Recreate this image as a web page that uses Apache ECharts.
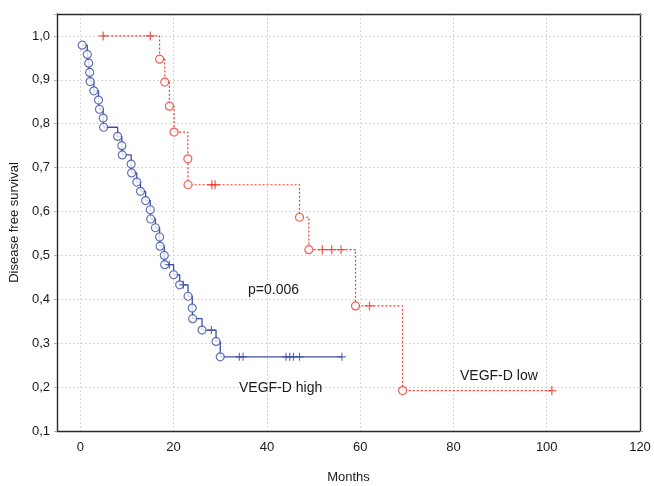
<!DOCTYPE html>
<html>
<head>
<meta charset="utf-8">
<script src="https://cdn.jsdelivr.net/npm/echarts@6/dist/echarts.min.js"></script>
<style>html,body{margin:0;padding:0;background:#fff}#c{width:654px;height:486px}</style>
</head>
<body>
<div id="c"></div>
<script>
// ---- data ----
const xTicks = [0, 20, 40, 60, 80, 100, 120];
const yTicks = [0.1, 0.2, 0.3, 0.4, 0.5, 0.6, 0.7, 0.8, 0.9, 1.0];

// VEGF-D high (blue): event times and survival after each event
const highEventTimes = [0.4, 1.5, 1.8, 2.0, 2.1, 2.9, 3.9, 4.1, 4.9, 5.0, 8.0, 8.9, 9.0, 10.9, 11.0, 12.1, 12.9, 14.0, 15.0, 15.1, 16.1, 17.0, 17.1, 18.0, 18.1, 20.0, 21.3, 23.1, 24.0, 24.1, 26.1, 29.1, 30.0];
const highSurvival   = [0.979, 0.958, 0.938, 0.917, 0.896, 0.875, 0.854, 0.833, 0.813, 0.792, 0.771, 0.750, 0.729, 0.708, 0.688, 0.667, 0.646, 0.625, 0.604, 0.583, 0.563, 0.542, 0.521, 0.500, 0.479, 0.456, 0.433, 0.407, 0.380, 0.356, 0.330, 0.304, 0.269];
const highCensorTimes = [19.1, 22.1, 28.1, 34.1, 34.9, 44.1, 44.9, 45.7, 47.0, 56.1];

// VEGF-D low (red)
const lowEventTimes = [17.0, 18.1, 19.1, 20.1, 23.05, 23.1, 47.0, 49.0, 59.0, 69.1];
const lowSurvival   = [0.947, 0.895, 0.840, 0.781, 0.720, 0.661, 0.587, 0.513, 0.385, 0.192];
const lowCensorTimes = [4.9, 15.0, 28.2, 28.9, 51.9, 53.9, 55.9, 62.0, 101.1];

const annotations = { p: 'p=0.006', high: 'VEGF-D high', low: 'VEGF-D low' };

// ---- build step curves ----
function buildCurve(evT, evS, cenT) {
  const pts = [];
  evT.forEach((t, i) => pts.push({ t, s: evS[i], ev: true }));
  cenT.forEach(t => pts.push({ t, ev: false }));
  pts.sort((a, b) => a.t - b.t || (a.ev ? -1 : 1));
  let level = 1.0;
  const line = [], circles = [], censors = [];
  pts.forEach(p => {
    if (p.ev) { level = p.s; circles.push([p.t, level]); }
    else censors.push([p.t, level]);
    line.push([p.t, level]);
  });
  return { line, circles, censors };
}
const high = buildCurve(highEventTimes, highSurvival, highCensorTimes);
const low = buildCurve(lowEventTimes, lowSurvival, lowCensorTimes);

const BLUE = '#3d4fa6', RED = '#ee3a2c';
const PLUS = 'path://M5,0 L5,10 M0,5 L10,5';
const FONT = 'Liberation Sans, Arial, sans-serif';
const FRAME = { show: true, onZero: false, lineStyle: { color: '#2b2b2b', width: 1.4 } };
const GRIDLINE = { show: true, lineStyle: { color: '#d6d6d6', type: [2, 2], width: 1 } };

const yFormatter = v => {
  const k = Math.round(v * 10);
  if (Math.abs(v * 10 - k) > 1e-6 || !yTicks.some(t => Math.abs(t - v) < 1e-6)) return '';
  return (k / 10).toFixed(1).replace('.', ',');
};

const chart = echarts.init(document.getElementById('c'), null, { renderer: 'canvas' });
chart.setOption({
  animation: false,
  grid: { left: 57, right: 14, top: 14, bottom: 55, show: false, containLabel: false, outerBoundsMode: 'none' },
  xAxis: [{
    type: 'value', min: -5, max: 120, position: 'bottom',
    name: 'Months', nameLocation: 'middle', nameGap: 40,
    nameTextStyle: { fontFamily: FONT, fontSize: 13, color: '#1a1a1a' },
    axisLine: FRAME,
    axisTick: { show: false, customValues: xTicks },
    axisLabel: { customValues: xTicks, fontFamily: FONT, fontSize: 13, color: '#1a1a1a', margin: 10 },
    splitLine: GRIDLINE
  }, {
    type: 'value', min: -5, max: 120, position: 'top',
    axisLine: FRAME, axisTick: { show: false }, axisLabel: { show: false }, splitLine: { show: false }
  }],
  yAxis: [{
    type: 'value', min: 0.1, max: 1.05, interval: 0.1, position: 'left',
    name: 'Disease free survival', nameLocation: 'middle', nameGap: 31,
    nameTextStyle: { fontFamily: FONT, fontSize: 13, color: '#1a1a1a' },
    axisLine: FRAME,
    axisTick: { show: true, inside: false, length: 3, lineStyle: { color: '#b0b0b0' } },
    axisLabel: { fontFamily: FONT, fontSize: 13, color: '#1a1a1a', margin: 7, formatter: yFormatter },
    splitLine: GRIDLINE
  }, {
    type: 'value', min: 0.1, max: 1.05, interval: 0.1, position: 'right',
    axisLine: FRAME,
    axisTick: { show: true, inside: false, length: 3, lineStyle: { color: '#b0b0b0' } },
    axisLabel: { show: false }, splitLine: { show: false }
  }],
  series: [
    { type: 'line', step: 'end', data: low.line, showSymbol: false, symbol: 'none',
      lineStyle: { color: RED, width: 1.2, type: [2, 2] }, z: 3 },
    { type: 'line', step: 'end', data: high.line, showSymbol: false, symbol: 'none',
      lineStyle: { color: BLUE, width: 1.3 }, z: 3 },
    { type: 'scatter', data: low.circles, symbol: 'circle', symbolSize: 8,
      itemStyle: { color: '#fff', borderColor: RED, borderWidth: 1.2 }, z: 4 },
    { type: 'scatter', data: high.circles, symbol: 'circle', symbolSize: 8,
      itemStyle: { color: '#fff', borderColor: BLUE, borderWidth: 1.2 }, z: 4 },
    { type: 'scatter', data: low.censors, symbol: PLUS, symbolSize: 9,
      itemStyle: { color: 'rgba(0,0,0,0)', borderColor: RED, borderWidth: 1.3 }, z: 4 },
    { type: 'scatter', data: high.censors, symbol: PLUS, symbolSize: 8,
      itemStyle: { color: 'rgba(0,0,0,0)', borderColor: BLUE, borderWidth: 1.2 }, z: 4 }
  ],
  graphic: [
    { type: 'text', left: 248, top: 283, style: { text: annotations.p, font: '14px ' + FONT, fill: '#1a1a1a' }, z: 10 },
    { type: 'text', left: 239, top: 381, style: { text: annotations.high, font: '14px ' + FONT, fill: '#1a1a1a' }, z: 10 },
    { type: 'text', left: 460, top: 369, style: { text: annotations.low, font: '14px ' + FONT, fill: '#1a1a1a' }, z: 10 }
  ]
});
</script>
</body>
</html>
